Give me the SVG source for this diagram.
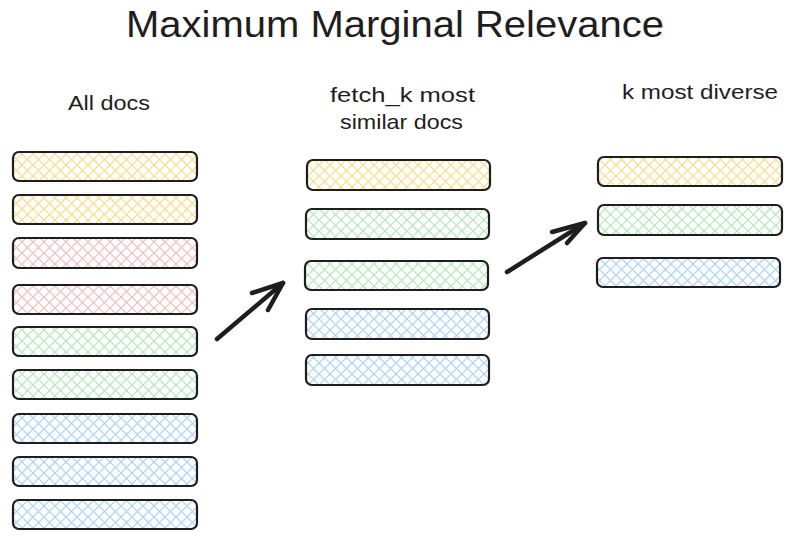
<svg xmlns="http://www.w3.org/2000/svg" width="790" height="544" viewBox="0 0 790 544">
  <style>
    .t { font-family: "Liberation Sans", "DejaVu Sans", sans-serif; fill: #1e1e1e; }
    .box { stroke: #1e1e1e; stroke-width: 2.2; }
    .y { fill: url(#hy); }
    .p { fill: url(#hp); }
    .g { fill: url(#hg); }
    .b { fill: url(#hb); }
    .arrow { stroke: #1e1e1e; stroke-width: 4.5; fill: none; stroke-linecap: round; stroke-linejoin: round; }
  </style>
  <defs>
    <pattern id="hy" width="11" height="11" patternUnits="userSpaceOnUse">
      <rect width="11" height="11" fill="#ffffff"/>
      <path d="M0 0L11 11M11 0L0 11" stroke="#f7dc82" stroke-width="1.2"/>
    </pattern>
    <pattern id="hp" width="11" height="11" patternUnits="userSpaceOnUse">
      <rect width="11" height="11" fill="#ffffff"/>
      <path d="M0 0L11 11M11 0L0 11" stroke="#f0bcbc" stroke-width="1.2"/>
    </pattern>
    <pattern id="hg" width="11" height="11" patternUnits="userSpaceOnUse">
      <rect width="11" height="11" fill="#ffffff"/>
      <path d="M0 0L11 11M11 0L0 11" stroke="#b0e8b8" stroke-width="1.2"/>
    </pattern>
    <pattern id="hb" width="11" height="11" patternUnits="userSpaceOnUse">
      <rect width="11" height="11" fill="#ffffff"/>
      <path d="M0 0L11 11M11 0L0 11" stroke="#a6d2f7" stroke-width="1.2"/>
    </pattern>
  </defs>
  <rect width="790" height="544" fill="#ffffff"/>

  <g id="title">
    <text class="t" x="126" y="37" font-size="37" textLength="538" lengthAdjust="spacingAndGlyphs">Maximum Marginal Relevance</text>
  </g>

  <g id="label-all">
    <text class="t" x="68" y="110" font-size="21" textLength="82" lengthAdjust="spacingAndGlyphs">All docs</text>
  </g>
  <g id="label-fetch">
    <text class="t" x="330" y="102" font-size="21" textLength="145" lengthAdjust="spacingAndGlyphs">fetch_k most</text>
    <text class="t" x="340" y="129" font-size="21" textLength="123" lengthAdjust="spacingAndGlyphs">similar docs</text>
  </g>
  <g id="label-diverse">
    <text class="t" x="622" y="99" font-size="21" textLength="156" lengthAdjust="spacingAndGlyphs">k most diverse</text>
  </g>

  <g id="all-docs">
    <g id="a1"><rect class="box y" x="13" y="152" width="184" height="29" rx="6"/></g>
    <g id="a2"><rect class="box y" x="13" y="195" width="184" height="29" rx="6"/></g>
    <g id="a3"><rect class="box p" x="13" y="238" width="184" height="30" rx="6"/></g>
    <g id="a4"><rect class="box p" x="13" y="285" width="184" height="29" rx="6"/></g>
    <g id="a5"><rect class="box g" x="13" y="327" width="184" height="29" rx="6"/></g>
    <g id="a6"><rect class="box g" x="13" y="370" width="184" height="29" rx="6"/></g>
    <g id="a7"><rect class="box b" x="13" y="414" width="184" height="29" rx="6"/></g>
    <g id="a8"><rect class="box b" x="13" y="457" width="184" height="29" rx="6"/></g>
    <g id="a9"><rect class="box b" x="13" y="500" width="184" height="29" rx="6"/></g>
  </g>

  <g id="fetch-docs">
    <g id="f1"><rect class="box y" x="307" y="160" width="183" height="30" rx="6"/></g>
    <g id="f2"><rect class="box g" x="306" y="209" width="183" height="30" rx="6"/></g>
    <g id="f3"><rect class="box g" x="305" y="261" width="183" height="29" rx="6"/></g>
    <g id="f4"><rect class="box b" x="306" y="309" width="183" height="30" rx="6"/></g>
    <g id="f5"><rect class="box b" x="306" y="355" width="183" height="30" rx="6"/></g>
  </g>

  <g id="diverse-docs">
    <g id="d1"><rect class="box y" x="598" y="157" width="184" height="29" rx="6"/></g>
    <g id="d2"><rect class="box g" x="598" y="205" width="184" height="30" rx="6"/></g>
    <g id="d3"><rect class="box b" x="597" y="258" width="183" height="29" rx="6"/></g>
  </g>

  <g id="connectors">
    <path class="arrow" d="M217 339L283 283"/>
    <path class="arrow" d="M252 293L283 283L268 310"/>
    <path class="arrow" d="M507 272L585 223"/>
    <path class="arrow" d="M552 232L585 223L567 243"/>
  </g>
</svg>
